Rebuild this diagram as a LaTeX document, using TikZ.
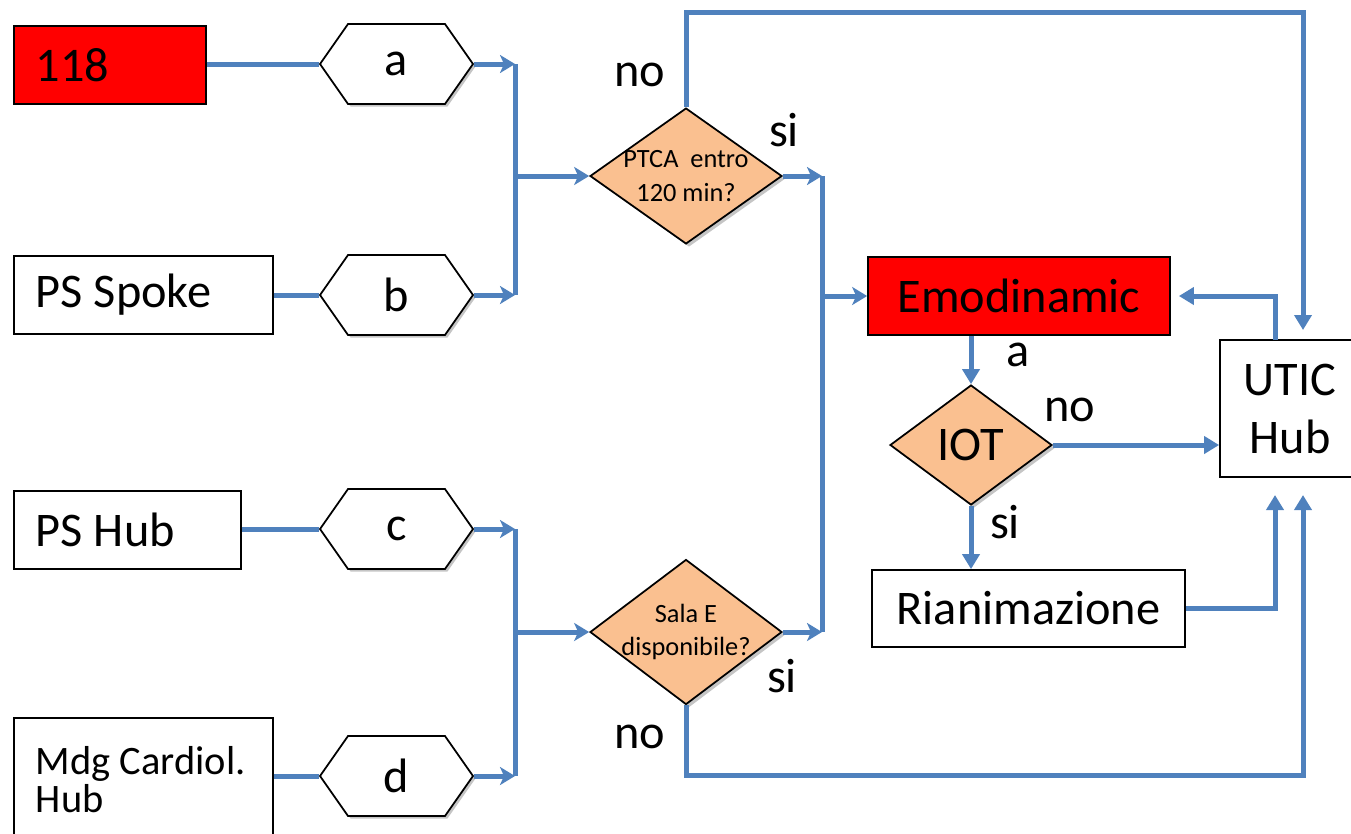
\documentclass[tikz,border=0pt]{standalone}
\usepackage{fontspec}
\setmainfont{Carlito}
\usetikzlibrary{shapes.geometric,shapes.symbols,arrows.meta,shadows}

\definecolor{flowBlue}{HTML}{4F81BD}
\definecolor{choicePeach}{HTML}{FAC090}

\tikzset{every picture/.style={line width=1pt},
        bigText/.style={font=\fontsize{27.5}{33}\selectfont},
        smallText/.style={font=\fontsize{15}{19}\selectfont},
        sourceBox/.style={rectangle, draw=black, bigText, align=flush left, inner xsep=0.44cm, minimum height=1.56cm, anchor=north west},
        choiceHex/.style={signal, signal to=west and east, signal pointer angle=110, draw=black, fill=white, bigText,
                          minimum width=3.06cm, minimum height=1.6cm, inner sep=0pt,
                          drop shadow={shadow xshift=0.05cm, shadow yshift=-0.05cm, fill=black!45}},
        decision/.style={diamond, draw=black, fill=choicePeach, inner sep=0pt, align=center,
                         drop shadow={shadow xshift=0.06cm, shadow yshift=-0.06cm, fill=black!45}},
        targetBox/.style={rectangle, draw=black, bigText, align=center, inner sep=0pt},
        flowLine/.style={draw=flowBlue, line width=0.1cm},
        flowArrow/.style={flowLine, -{Triangle[length=0.3cm,width=0.34cm]}},
        joinArrow/.style={flowLine, -{Stealth[length=0.3cm,width=0.36cm,inset=0.08cm]}},
        branchLabel/.style={bigText, inner sep=0pt}}

\begin{document}
\begin{tikzpicture}[x=0.02cm, y=-0.02cm]
\useasboundingbox (0,0) rectangle (1351,833);

% draw the sending points
\node[sourceBox, fill=red, text width=2.96cm] (box118) at (13,25) {118};
\node[sourceBox, text width=4.30cm] (spoke) at (13,255) {PS Spoke};
\node[sourceBox, text width=3.66cm] (hub) at (13,490) {PS Hub};
\node[sourceBox, text width=4.30cm, minimum height=2.48cm, font=\fontsize{23}{21.6}\selectfont] (mdg) at (13,717) {Mdg Cardiol.\\Hub};

% draw the hexagons
\foreach \name/\y in {a/64, b/295, c/529, d/776} {
    \node[choiceHex] (hex-\name) at (396.5,\y) {\name};
}

% junction points
\coordinate (upA) at (515,64);
\coordinate (upB) at (515,295);
\coordinate (upMid) at (515,176);
\coordinate (lowC) at (515,529);
\coordinate (lowD) at (515,776);
\coordinate (lowMid) at (515,632);
\coordinate (rightTop) at (822,176);
\coordinate (rightBot) at (822,632);
\coordinate (rightMid) at (822,296);
\coordinate (topRight) at (1303,12);
\coordinate (botRight) at (1303,775);
\coordinate (uticInTop) at (1303,330);
\coordinate (uticInBot) at (1303,495);
\coordinate (uticInRian) at (1275,495);
\coordinate (uticOut) at (1275,340);

% draw the decisions
\node[decision, smallText, inner sep=-0.2cm, minimum width=3.84cm, minimum height=2.6cm] (ptca) at (686,176) {PTCA\ \ entro\\120 min?};
\node[decision, smallText, inner sep=-0.2cm, minimum width=3.84cm, minimum height=2.7cm] (sala) at (686,632) {Sala E\\disponibile?};
\node[decision, bigText, aspect=1.35, minimum width=3.24cm, minimum height=2.4cm] (iot) at (971,445) {IOT};

% draw the receiving points
\node[targetBox, fill=red, minimum width=6.04cm, minimum height=1.56cm] (emo) at (1019,296) {Emodinamic};
\node[targetBox, minimum width=6.26cm, minimum height=1.54cm] (rian) at (1028.5,608.5) {Rianimazione};
\node[targetBox, minimum width=2.8cm, minimum height=2.74cm] (utic) at (1290,408.5) {UTIC\\Hub};

% draw the left paths
\draw[flowLine] (box118.east |- hex-a.west) -- (hex-a.west);
\draw[flowLine] (spoke.east |- hex-b.west) -- (hex-b.west);
\draw[flowLine] (hub.east |- hex-c.west) -- (hex-c.west);
\draw[flowLine] (mdg.east |- hex-d.west) -- (hex-d.west);
\foreach \name/\join in {a/upA, b/upB, c/lowC, d/lowD} {
    \draw[joinArrow] (hex-\name.east) -- (\join);
}
\draw[flowLine] (upA) -- (upB);
\draw[flowLine] (lowC) -- (lowD);
\draw[joinArrow] (upMid) -- (ptca.west);
\draw[joinArrow] (lowMid) -- (sala.west);

% draw the right paths
\draw[joinArrow] (ptca.east) -- (rightTop);
\draw[joinArrow] (sala.east) -- (rightBot);
\draw[flowLine] (rightTop) -- (rightBot);
\draw[joinArrow] (rightMid) -- (emo.west);
\draw[flowArrow] (ptca.north) |- (topRight) -- (uticInTop);
\draw[flowArrow] (sala.south) |- (botRight) -- (uticInBot);
\draw[flowArrow] (emo.south -| iot.north) -- (iot.north);
\draw[flowArrow] (iot.east) -- (iot.east -| utic.west);
\draw[flowArrow] (iot.south) -- (iot.south |- rian.north);
\draw[flowArrow] (rian.east) -| (uticInRian);
\draw[flowArrow, shorten >=0.16cm] (uticOut) |- (emo.east);

% branch labels
\node[branchLabel] (noTop) at (640,75) {no};
\node[branchLabel] (siTop) at (784,130) {si};
\node[branchLabel] (siBot) at (782,676) {si};
\node[branchLabel] (noBot) at (640,737) {no};
\node[branchLabel] (aEmo) at (1018,355) {a};
\node[branchLabel] (noIot) at (1070,410) {no};
\node[branchLabel] (siIot) at (1005,522) {si};

\end{tikzpicture}
\end{document}
